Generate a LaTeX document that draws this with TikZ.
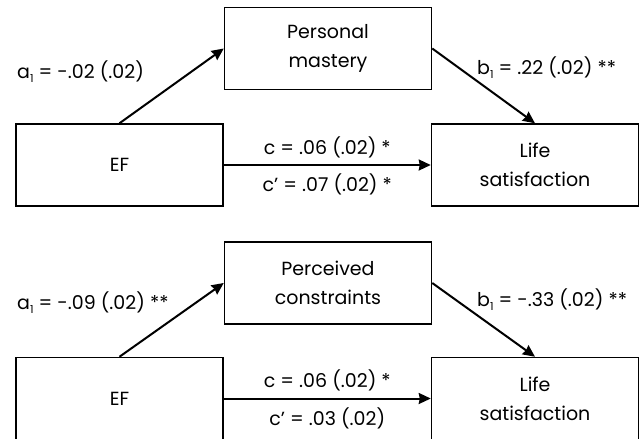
\documentclass[tikz,border=0pt]{standalone}
\usepackage{fontspec}
\setmainfont{Poppins}
\usetikzlibrary{arrows.meta,positioning}
\tikzstyle{box} = [rectangle, draw=black, line width=1.5pt, minimum width=207pt, minimum height=82pt, inner sep=0pt, align=center, font=\fontsize{19}{29}\selectfont]
\tikzstyle{arrow} = [line width=2pt,->,>={Stealth[length=12pt,width=11pt,inset=1pt]},draw=black]
\tikzstyle{coef} = [font=\fontsize{19}{24}\selectfont, inner sep=0pt]
\newcommand{\sub}[1]{\raisebox{-4pt}{\fontsize{11}{11}\selectfont #1}}

\begin{document}
\begin{tikzpicture}[x=1pt,y=-1pt]
    \useasboundingbox (0,0) rectangle (640,439);
    % personal mastery
    \node (EF1) [box] at (119.5,165) {EF};
    \node (LS1) [box, right=207pt of EF1] {Life\\satisfaction};
    \node (PM) [box, anchor=south west] at ([yshift=33pt]EF1.north east) {Personal\\mastery};

    \draw[arrow] (EF1.north) -- (PM.west);
    \draw[arrow] (PM.east) -- (LS1.north);
    \draw[arrow] (EF1) -- node[coef, above=6pt] {c = .06 (.02) *} node[coef, below=8pt] {c’ = .07 (.02) *} (LS1);

    \node (a1top) [coef, anchor=west] at (17,72) {a\sub{1} = -.02 (.02)};
    \node (b1top) [coef, anchor=west] at (477,68) {b\sub{1} = .22 (.02) **};

    % perceived constraints
    \node (EF2) [box, below=150pt of EF1] {EF};
    \node (LS2) [box, right=207pt of EF2] {Life\\satisfaction};
    \node (PC) [box, anchor=south west] at ([yshift=32pt]EF2.north east) {Perceived\\constraints};

    \draw[arrow] (EF2.north) -- (PC.west);
    \draw[arrow] (PC.east) -- (LS2.north);
    \draw[arrow] (EF2) -- node[coef, above=6pt] {c = .06 (.02) *} node[coef, below=8pt] {c’ = .03 (.02)} (LS2);

    \node (a1bot) [coef, anchor=west] at (17,303) {a\sub{1} = -.09 (.02) **};
    \node (b1bot) [coef, anchor=west] at (477,300) {b\sub{1} = -.33 (.02) **};
\end{tikzpicture}
\end{document}
